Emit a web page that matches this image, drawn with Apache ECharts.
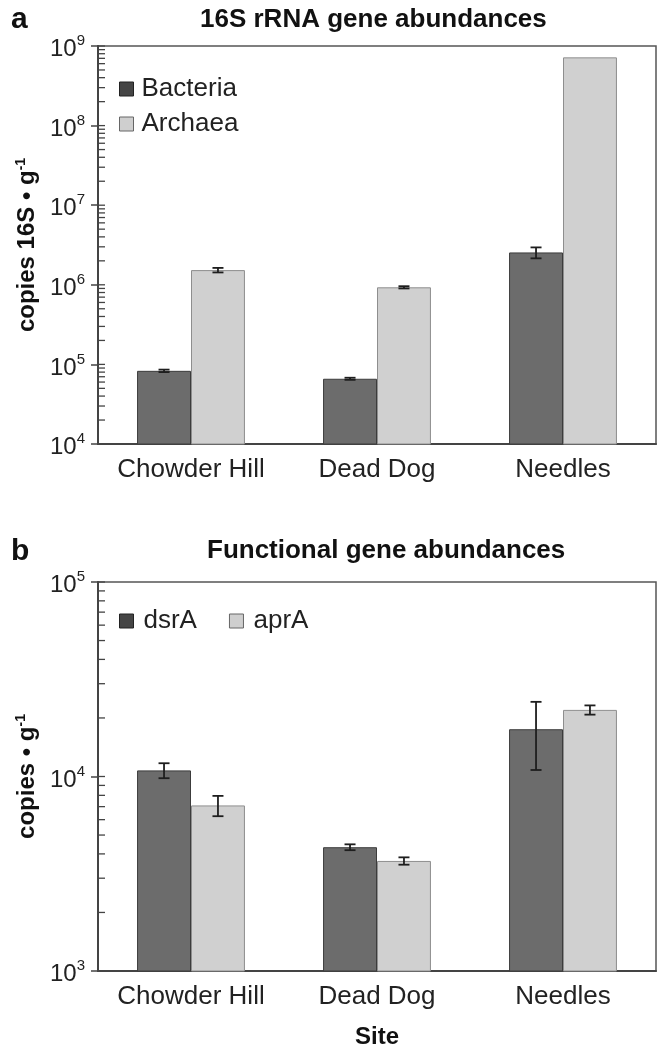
<!DOCTYPE html>
<html>
<head>
<meta charset="utf-8">
<script src="https://cdn.jsdelivr.net/npm/echarts@6/dist/echarts.min.js"></script>
<style>
html,body{margin:0;padding:0;background:#fff;}
#chart{width:658px;height:1050px;}
</style>
</head>
<body>
<div id="chart"></div>
<script>
// ---------- data ----------
const categories = ['Chowder Hill', 'Dead Dog', 'Needles'];

// Panel a: 16S rRNA gene abundances (copies 16S per g)
const bacteria     = [8.3e4, 6.6e4, 2.55e6];
const bacteriaErr  = [3e3, 2e3, 4e5];
const archaea      = [1.53e6, 9.3e5, 7.2e8];
const archaeaErr   = [1e5, 3e4, 0];

// Panel b: functional gene abundances (copies per g)
const dsrA    = [1.075e4, 4.33e3, 1.75e4];
const dsrAErr = [950, 150, 6700];
const aprA    = [7.1e3, 3.68e3, 2.2e4];
const aprAErr = [850, 160, 1200];

// axis ranges (decades)
const topMin = 1e4, topMax = 1e9;
const botMin = 1e3, botMax = 1e5;

// ---------- styling ----------
const FONT = 'Liberation Sans, Arial, Helvetica, sans-serif';
const DARK = '#6c6c6c', DARK_BORDER = '#3c3c3c';
const LIGHT = '#d0d0d0', LIGHT_BORDER = '#8e8e8e';
const AX = '#444';

function decadeTicks(min, max) {
  const out = [];
  for (let d = min; d < max; d *= 10) {
    for (let k = 1; k <= 9; k++) out.push([0, d * k]);
  }
  out.push([0, max]);
  return out;
}

function tickLabel(v) {
  const e = Math.round(Math.log10(v));
  return '{b|10}{s|' + e + '}';
}
const tickRich = {
  b: { fontSize: 24, fontFamily: FONT, color: '#222', padding: [7, 0, 0, 0] },
  s: { fontSize: 15, fontFamily: FONT, color: '#222', padding: [0, 0, 10, 0] }
};

function errRender(side) {
  return function (params, api) {
    const i = api.value(0), v = api.value(1), e = api.value(2);
    if (!e) return;
    const band = params.coordSys.width / categories.length;
    const cx = api.coord([i, v])[0] + side * band * 0.145;
    const yt = api.coord([i, v + e])[1];
    const yb = api.coord([i, v - e])[1];
    const hw = 5.5;
    const st = { stroke: '#1e1e1e', lineWidth: 1.8 };
    return {
      type: 'group',
      children: [
        { type: 'line', shape: { x1: cx, y1: yt, x2: cx, y2: yb }, style: st },
        { type: 'line', shape: { x1: cx - hw, y1: yt, x2: cx + hw, y2: yt }, style: st },
        { type: 'line', shape: { x1: cx - hw, y1: yb, x2: cx + hw, y2: yb }, style: st }
      ]
    };
  };
}

function minorRender(params, api) {
  const y = api.coord([0, api.value(1)])[1];
  const x0 = params.coordSys.x;
  return {
    type: 'line',
    shape: { x1: x0, y1: y, x2: x0 + 7, y2: y },
    style: { stroke: AX, lineWidth: 1.3 }
  };
}

function errData(vals, errs) {
  return vals.map((v, i) => [i, v, errs[i]]);
}

const chart = echarts.init(document.getElementById('chart'), null, { renderer: 'canvas' });

const yAxisCommon = {
  type: 'log',
  logBase: 10,
  axisLine: { show: true, lineStyle: { color: AX, width: 2 } },
  axisTick: { show: true, inside: false, length: 7, lineStyle: { color: AX, width: 1.5 } },
  splitLine: { show: false },
  axisLabel: { formatter: tickLabel, rich: tickRich, margin: 13 },
  nameLocation: 'middle',
  nameRotate: 90
};

const xAxisCommon = {
  type: 'category',
  data: categories,
  axisLine: { show: true, lineStyle: { color: AX, width: 2 } },
  axisTick: { show: false },
  axisLabel: { fontSize: 26, fontFamily: FONT, color: '#222', margin: 13, interval: 0, hideOverlap: false },
  splitLine: { show: false }
};

const titleStyle = { fontSize: 26, fontWeight: 'bold', fontFamily: FONT, color: '#111' };
const nameStyle = {
  fontSize: 24, fontWeight: 'bold', fontFamily: FONT, color: '#111',
  rich: { sup: { fontSize: 14, fontWeight: 'bold', fontFamily: FONT, color: '#111', padding: [0, 0, 11, 0] } }
};

const option = {
  backgroundColor: '#fff',
  animation: false,
  title: [
    { text: 'a', left: 6, top: 0, textStyle: { fontSize: 30, fontWeight: 'bold', fontFamily: FONT, color: '#111' } },
    { text: '16S rRNA gene abundances', left: 195, top: 2, textStyle: titleStyle },
    { text: 'b', left: 6, top: 532, textStyle: { fontSize: 30, fontWeight: 'bold', fontFamily: FONT, color: '#111' } },
    { text: 'Functional gene abundances', left: 202, top: 533, textStyle: titleStyle }
  ],
  legend: [
    {
      data: [
        { name: 'Bacteria', itemStyle: { color: '#454545', borderColor: '#222', borderWidth: 1 } },
        { name: 'Archaea', itemStyle: { color: '#cfcfcf', borderColor: '#666', borderWidth: 1 } }
      ],
      orient: 'vertical', left: 114, top: 71,
      itemWidth: 14, itemHeight: 14, itemGap: 9,
      icon: 'rect',
      textStyle: { fontSize: 26, fontFamily: FONT, color: '#222', padding: [0, 0, 0, 3] }
    },
    {
      data: [
        { name: 'dsrA', itemStyle: { color: '#454545', borderColor: '#222', borderWidth: 1 } },
        { name: 'aprA', itemStyle: { color: '#cfcfcf', borderColor: '#666', borderWidth: 1 } }
      ],
      orient: 'horizontal', left: 114, top: 603,
      itemWidth: 14, itemHeight: 14, itemGap: 32,
      icon: 'rect',
      textStyle: { fontSize: 26, fontFamily: FONT, color: '#222', padding: [0, 0, 0, 5] }
    }
  ],
  grid: [
    { left: 98, top: 46, width: 558, height: 398, show: true, borderColor: '#555', borderWidth: 1.5, backgroundColor: 'transparent' },
    { left: 98, top: 582, width: 558, height: 394, show: true, borderColor: '#555', borderWidth: 1.5, backgroundColor: 'transparent' }
  ],
  xAxis: [
    Object.assign({}, xAxisCommon, { gridIndex: 0 }),
    Object.assign({}, xAxisCommon, {
      gridIndex: 1,
      name: 'Site', nameLocation: 'middle', nameGap: 54,
      nameTextStyle: { fontSize: 24, fontWeight: 'bold', fontFamily: FONT, color: '#111' }
    })
  ],
  yAxis: [
    Object.assign({}, yAxisCommon, {
      gridIndex: 0, min: topMin, max: topMax,
      name: 'copies 16S • g{sup|-1}', nameGap: 58,
      nameTextStyle: nameStyle
    }),
    Object.assign({}, yAxisCommon, {
      gridIndex: 1, min: botMin, max: botMax,
      name: 'copies • g{sup|-1}', nameGap: 58,
      nameTextStyle: nameStyle
    })
  ],
  series: [
    { name: 'Bacteria', type: 'bar', xAxisIndex: 0, yAxisIndex: 0, data: bacteria, barWidth: '29%', barGap: '0%',
      itemStyle: { color: DARK, borderColor: DARK_BORDER, borderWidth: 1 } },
    { name: 'Archaea', type: 'bar', xAxisIndex: 0, yAxisIndex: 0, data: archaea, barWidth: '29%', barGap: '0%',
      itemStyle: { color: LIGHT, borderColor: LIGHT_BORDER, borderWidth: 1 } },
    { name: 'dsrA', type: 'bar', xAxisIndex: 1, yAxisIndex: 1, data: dsrA, barWidth: '29%', barGap: '0%',
      itemStyle: { color: DARK, borderColor: DARK_BORDER, borderWidth: 1 } },
    { name: 'aprA', type: 'bar', xAxisIndex: 1, yAxisIndex: 1, data: aprA, barWidth: '29%', barGap: '0%',
      itemStyle: { color: LIGHT, borderColor: LIGHT_BORDER, borderWidth: 1 } },

    { type: 'custom', xAxisIndex: 0, yAxisIndex: 0, renderItem: errRender(-1), data: errData(bacteria, bacteriaErr), encode: { x: 0, y: 1 }, z: 5 },
    { type: 'custom', xAxisIndex: 0, yAxisIndex: 0, renderItem: errRender(1), data: errData(archaea, archaeaErr), encode: { x: 0, y: 1 }, z: 5 },
    { type: 'custom', xAxisIndex: 1, yAxisIndex: 1, renderItem: errRender(-1), data: errData(dsrA, dsrAErr), encode: { x: 0, y: 1 }, z: 5 },
    { type: 'custom', xAxisIndex: 1, yAxisIndex: 1, renderItem: errRender(1), data: errData(aprA, aprAErr), encode: { x: 0, y: 1 }, z: 5 },

    { type: 'custom', xAxisIndex: 0, yAxisIndex: 0, renderItem: minorRender, data: decadeTicks(topMin, topMax), encode: { x: 0, y: 1 }, z: 6, silent: true },
    { type: 'custom', xAxisIndex: 1, yAxisIndex: 1, renderItem: minorRender, data: decadeTicks(botMin, botMax), encode: { x: 0, y: 1 }, z: 6, silent: true }
  ]
};

chart.setOption(option);
</script>
</body>
</html>
